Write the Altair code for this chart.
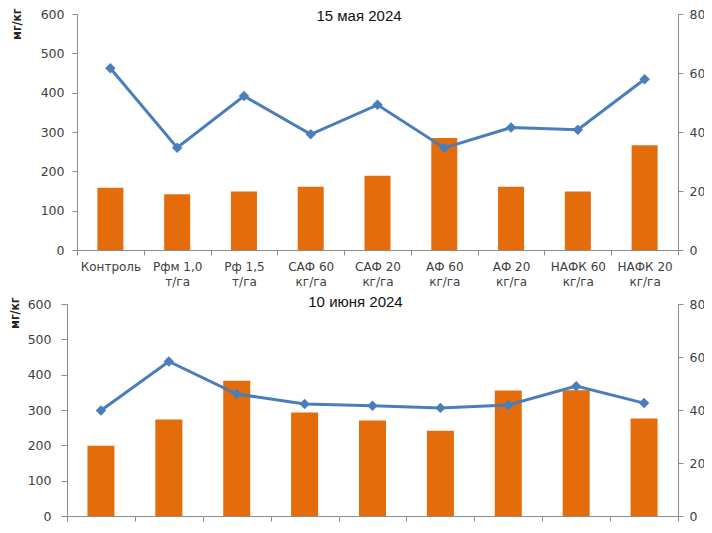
import altair as alt
import pandas as pd

categories = ["Контроль", "Рфм 1,0 т/га", "Рф 1,5 т/га", "САФ 60 кг/га", "САФ 20 кг/га",
              "АФ 60 кг/га", "АФ 20 кг/га", "НАФК 60 кг/га", "НАФК 20 кг/га"]
may_bar = [158, 142, 149, 161, 189, 285, 161, 149, 266]
may_line = [61.6, 34.7, 52.2, 39.2, 49.2, 34.6, 41.5, 40.8, 57.9]
june_bar = [199, 273, 383, 293, 270, 241, 355, 356, 276]
june_line = [39.8, 58.3, 46.0, 42.3, 41.6, 40.8, 41.9, 49.0, 42.6]
titles = ["15 мая 2024", "10 июня 2024"]
left_ticks = [0, 100, 200, 300, 400, 500, 600]
right_ticks = [0, 20, 40, 60, 80]
unit = "мг/кг"

ORANGE = "#E46C0A"
BLUE = "#4A7EBB"
AXIS = "#8C8C8C"
TEXT = "#404040"

label_expr = ("indexof(datum.label, '/') > 0 ? "
              "[substring(datum.label, 0, lastindexof(datum.label, ' ')), "
              "substring(datum.label, lastindexof(datum.label, ' ') + 1)] : datum.label")

W = 611


def panel(bars, line, title, h, show_labels, x_start, y_offset, tick_l, pad_l,
          ytitle_x, ytitle_y, title_x, title_y, bar_size):
    df = pd.DataFrame({"cat": categories, "bar": bars, "line": line})
    x = alt.X("cat:N", sort=categories,
              scale=alt.Scale(paddingInner=0, paddingOuter=0, range=[x_start, W]),
              axis=alt.Axis(title=None, labelAngle=0, tickBand="extent", labels=show_labels,
                            labelExpr=label_expr, labelFontSize=12, labelFont="DejaVu Sans",
                            labelColor=TEXT, labelLineHeight=15, labelPadding=6,
                            labelOverlap=False, domainColor=AXIS, tickColor=AXIS,
                            tickSize=5, grid=False))
    bars_ch = alt.Chart(df).mark_bar(color=ORANGE, size=bar_size).encode(
        x=x,
        y=alt.Y("bar:Q", scale=alt.Scale(domain=[0, 600], nice=False),
                axis=alt.Axis(values=left_ticks, title=unit, offset=y_offset,
                              titleX=ytitle_x, titleY=ytitle_y, titleAngle=270,
                              titleAlign="right", titleBaseline="middle",
                              titleFont="DejaVu Sans Condensed", titleFontSize=12,
                              titleFontWeight="bold", titleColor="#222222",
                              labelFont="DejaVu Sans", labelFontSize=12.5, labelColor=TEXT,
                              labelPadding=pad_l, tickSize=tick_l, domainColor=AXIS,
                              tickColor=AXIS, grid=False)))
    line_ch = alt.Chart(df).mark_line(
        color=BLUE, strokeWidth=3,
        point=alt.OverlayMarkDef(shape="diamond", size=110, filled=True, color=BLUE)
    ).encode(
        x=x,
        y=alt.Y("line:Q", scale=alt.Scale(domain=[0, 80], nice=False),
                axis=alt.Axis(orient="right", values=right_ticks, title=None,
                              labelFont="DejaVu Sans", labelFontSize=12.5, labelColor=TEXT,
                              labelPadding=6, tickSize=5, domainColor=AXIS, tickColor=AXIS,
                              grid=False)))
    text_ch = alt.Chart(pd.DataFrame({"t": [title]})).mark_text(
        font="Liberation Sans", fontSize=15, color="#111111", baseline="middle", align="center"
    ).encode(text="t:N", x=alt.value(title_x), y=alt.value(title_y))
    return alt.layer(bars_ch, line_ch, text_ch).resolve_scale(y="independent").properties(
        width=W, height=h)


top = panel(may_bar, may_line, titles[0], 236, True, 10, -10, 5, 8, -61, -6, 292, 1.5, 26)
bottom = panel(june_bar, june_line, titles[1], 212, False, 0, 0, 6, 10, -53, -7, 288.5, -2.5, 27)

chart = alt.vconcat(top, bottom, spacing=7).properties(
    padding={"left": 0, "top": 0, "right": -1, "bottom": 0}
).configure_view(stroke=None)

chart.save("out.html", embed_options={"renderer": "svg", "actions": False})
